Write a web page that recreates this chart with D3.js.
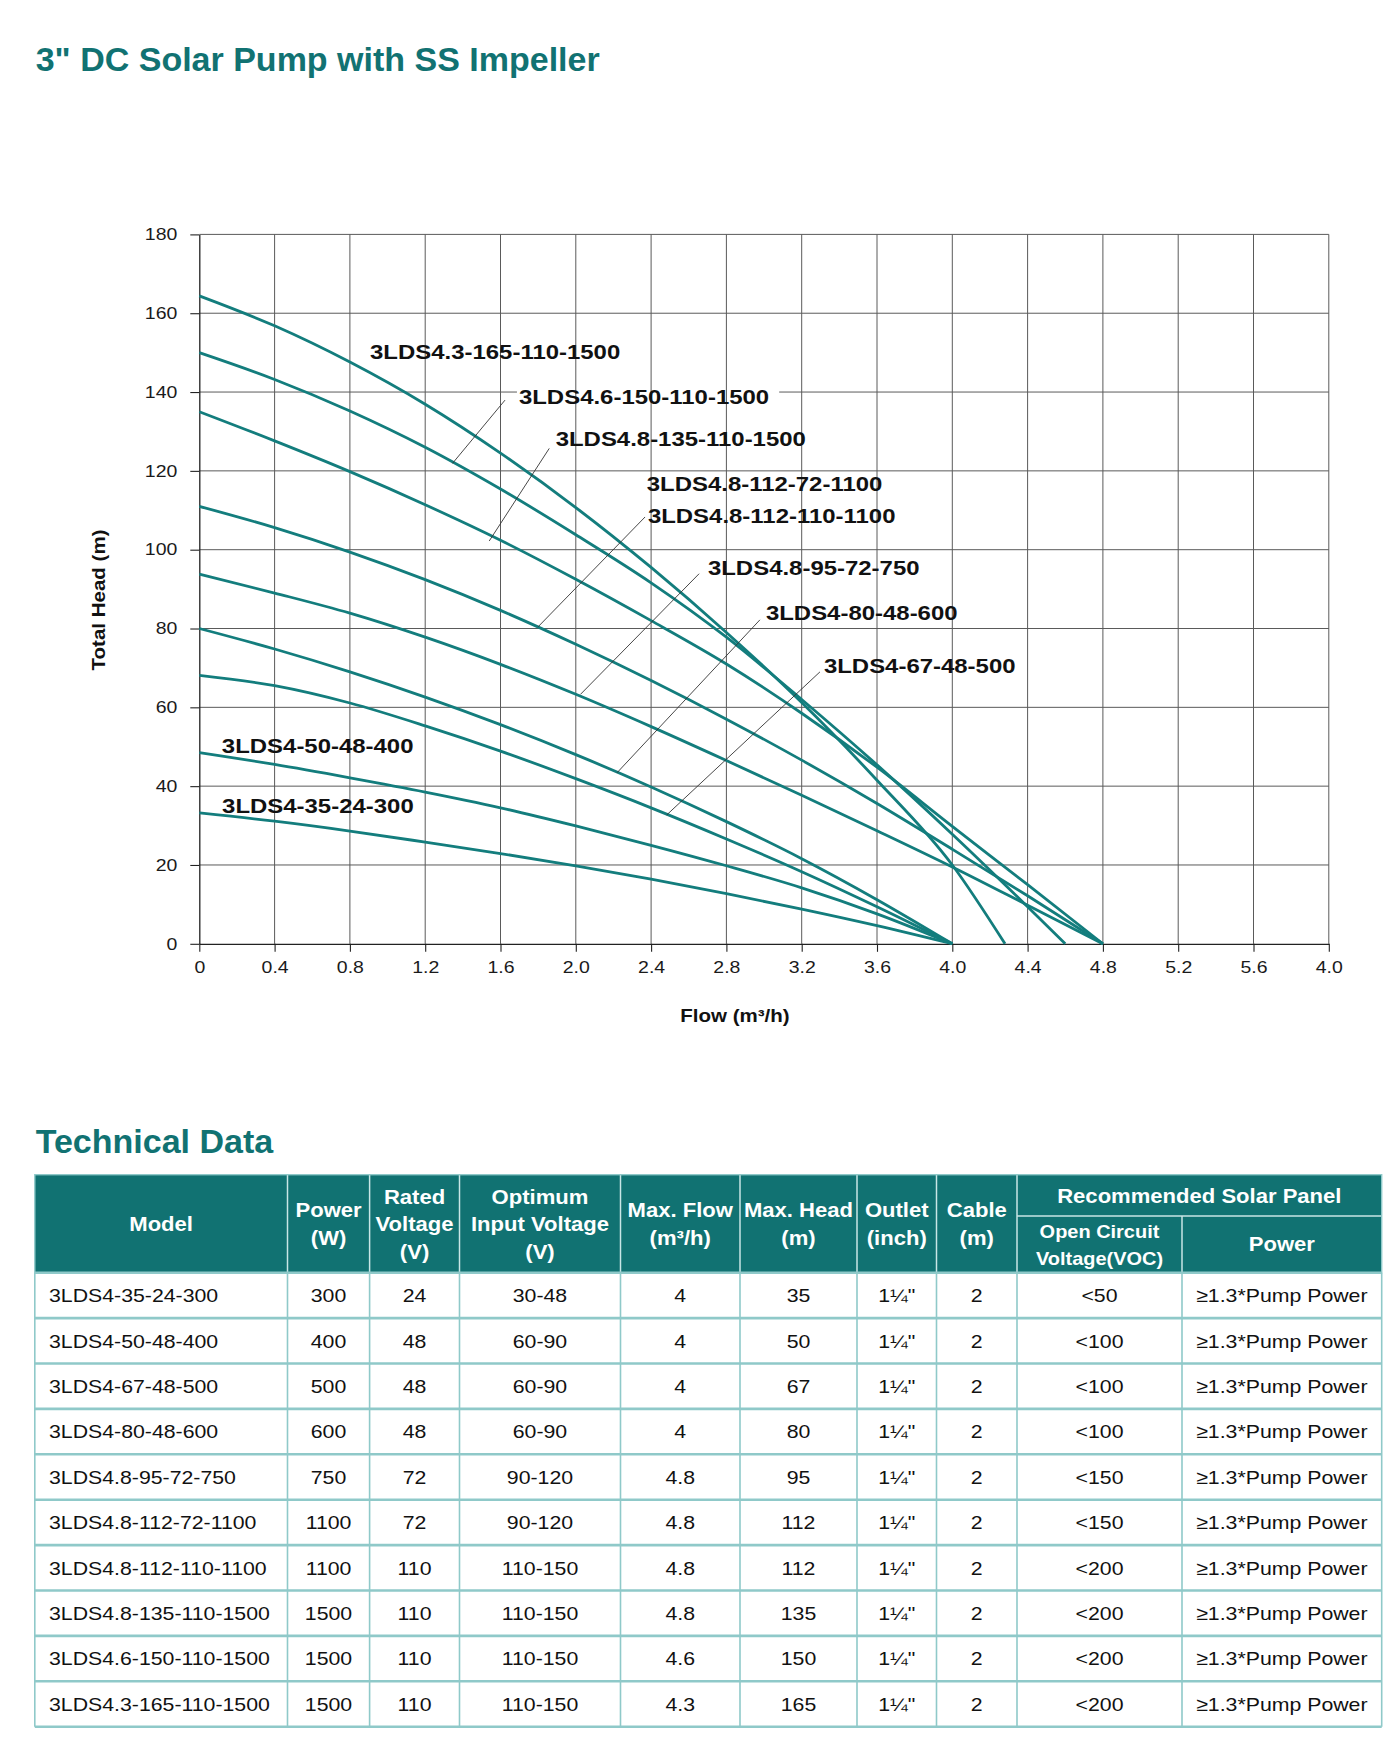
<!DOCTYPE html>
<html>
<head>
<meta charset="utf-8">
<script src="https://cdn.jsdelivr.net/npm/d3@7"></script>
<style>
  html, body { margin: 0; padding: 0; background: #fff; }
  svg { display: block; font-family: "Liberation Sans", Arial, Helvetica, sans-serif; }
</style>
</head>
<body>
<script>
// ---------------- DATA ----------------
const chartTitle = '3" DC Solar Pump with SS Impeller';
const tableTitle = "Technical Data";
const xTickValues = [0, 0.4, 0.8, 1.2, 1.6, 2.0, 2.4, 2.8, 3.2, 3.6, 4.0, 4.4, 4.8, 5.2, 5.6, 6.0];
const xTickLabels = ["0", "0.4", "0.8", "1.2", "1.6", "2.0", "2.4", "2.8", "3.2", "3.6", "4.0", "4.4", "4.8", "5.2", "5.6", "4.0"];
const yTickValues = [0, 20, 40, 60, 80, 100, 120, 140, 160, 180];
const xAxisTitle = "Flow (m\u00B3/h)";
const yAxisTitle = "Total Head (m)";

// Pump curves: [flow m3/h, head m]
const curve165 = [[0,164.4],[0.4,156.8],[0.8,147.6],[1.2,136.9],[1.6,124.5],[2.0,110.7],[2.4,95.5],[2.8,79],[3.2,61.2],[3.6,41.5],[4.0,20],[4.28,0]];
const curve150 = [[0,150],[0.4,143.2],[0.8,135.2],[1.2,126],[1.6,115.4],[2.0,103.8],[2.4,91.6],[2.8,77.8],[3.2,62],[3.6,45.4],[4.0,27.8],[4.4,9.4],[4.6,0]];
const curve135 = [[0,135],[0.4,127.6],[0.8,119.8],[1.2,111.4],[1.6,102.4],[2.0,92.5],[2.4,82],[2.8,71],[3.2,58.5],[3.6,44.8],[4.0,29.8],[4.4,15],[4.8,0]];
const curve112 = [[0,111],[0.4,105.6],[0.8,99.4],[1.2,92.4],[1.6,84.6],[2.0,76],[2.4,66.8],[2.8,57],[3.2,46.6],[3.6,35.6],[4.0,24],[4.4,12.2],[4.8,0]];
const curve95  = [[0,93.8],[0.4,89],[0.8,83.9],[1.2,77.8],[1.6,70.9],[2.0,63.3],[2.4,55.1],[2.8,46.5],[3.2,37.7],[3.6,28.7],[4.0,19.5],[4.4,9.8],[4.8,0]];
const curve80  = [[0,80],[0.4,74.8],[0.8,69],[1.2,62.6],[1.6,55.6],[2.0,48],[2.4,39.8],[2.8,31],[3.2,21.6],[3.6,11.2],[4.0,0]];
const curve67  = [[0,68.1],[0.4,65.5],[0.8,61.1],[1.2,55.3],[1.6,48.9],[2.0,41.9],[2.4,34.5],[2.8,26.6],[3.2,18.3],[3.6,9.4],[4.0,0]];
const curve50  = [[0,48.5],[0.4,45.5],[0.8,42.1],[1.2,38.5],[1.6,34.5],[2.0,29.9],[2.4,25],[2.8,19.8],[3.2,14.2],[3.6,7.6],[4.0,0]];
const curve35  = [[0,33.2],[0.4,31.1],[0.8,28.6],[1.2,25.8],[1.6,22.9],[2.0,19.8],[2.4,16.4],[2.8,12.7],[3.2,8.8],[3.6,4.6],[4.0,0]];
const curves = [curve165, curve150, curve135, curve112, curve95, curve80, curve67, curve50, curve35];

// Curve labels and their anchor (in data units: flow, head)
const curveLabels = ["3LDS4.3-165-110-1500","3LDS4.6-150-110-1500","3LDS4.8-135-110-1500","3LDS4.8-112-72-1100","3LDS4.8-112-110-1100","3LDS4.8-95-72-750","3LDS4-80-48-600","3LDS4-67-48-500","3LDS4-50-48-400","3LDS4-35-24-300"];
const labelAnchors = [[0.907,148.5],[1.698,136.9],[1.893,126.3],[2.377,114.9],[2.383,106.7],[2.702,93.6],[3.010,82.1],[3.318,68.8],[0.120,48.4],[0.121,33.2]];
// Leader lines: [from flow, from head, to flow, to head]
const leaders = [[1.624,137.95,1.345,121.9],[1.859,125.7,1.540,102.2],[2.368,108.3,1.799,80.4],[2.655,93.9,2.025,63.3],[2.978,82.2,2.219,43.4],[3.297,69.0,2.483,32.7]];

// Table data
const models = ["3LDS4-35-24-300","3LDS4-50-48-400","3LDS4-67-48-500","3LDS4-80-48-600","3LDS4.8-95-72-750","3LDS4.8-112-72-1100","3LDS4.8-112-110-1100","3LDS4.8-135-110-1500","3LDS4.6-150-110-1500","3LDS4.3-165-110-1500"];
const powerW = ["300","400","500","600","750","1100","1100","1500","1500","1500"];
const ratedV = ["24","48","48","48","72","72","110","110","110","110"];
const optimumV = ["30-48","60-90","60-90","60-90","90-120","90-120","110-150","110-150","110-150","110-150"];
const maxFlow = ["4","4","4","4","4.8","4.8","4.8","4.8","4.6","4.3"];
const maxHead = ["35","50","67","80","95","112","112","135","150","165"];
const outlet = ["1\u00BC\"","1\u00BC\"","1\u00BC\"","1\u00BC\"","1\u00BC\"","1\u00BC\"","1\u00BC\"","1\u00BC\"","1\u00BC\"","1\u00BC\""];
const cable = ["2","2","2","2","2","2","2","2","2","2"];
const vocLimit = ["<50","<100","<100","<100","<150","<150","<200","<200","<200","<200"];
const panelPower = ["\u22651.3*Pump Power","\u22651.3*Pump Power","\u22651.3*Pump Power","\u22651.3*Pump Power","\u22651.3*Pump Power","\u22651.3*Pump Power","\u22651.3*Pump Power","\u22651.3*Pump Power","\u22651.3*Pump Power","\u22651.3*Pump Power"];
const headerLabels = [["Model"],["Power","(W)"],["Rated","Voltage","(V)"],["Optimum","Input Voltage","(V)"],["Max. Flow","(m\u00B3/h)"],["Max. Head","(m)"],["Outlet","(inch)"],["Cable","(m)"]];
const panelHeader = "Recommended Solar Panel";
const panelSubHeaders = [["Open Circuit","Voltage(VOC)"],["Power"]];

// ---------------- DRAW ----------------
const W = 1400, H = 1759;
const TEAL = "#117272";
const CURVE = "#137d7d";
const svg = d3.select("body").append("svg").attr("width", W).attr("height", H);

function stretch(sel, f) {
  sel.each(function () {
    const L = this.getComputedTextLength();
    if (L > 0) {
      this.setAttribute("textLength", (L * f).toFixed(2));
      this.setAttribute("lengthAdjust", "spacingAndGlyphs");
    }
  });
}

// Titles
svg.append("text").attr("x", 35.7).attr("y", 70.7)
  .attr("font-size", 34).attr("font-weight", "bold").attr("fill", TEAL).text(chartTitle);
svg.append("text").attr("x", 35.7).attr("y", 1153.3)
  .attr("font-size", 34).attr("font-weight", "bold").attr("fill", TEAL).text(tableTitle);

// Scales
const x = d3.scaleLinear().domain([0, 6]).range([199.3, 1328.8]);
const y = d3.scaleLinear().domain([0, 180]).range([943.8, 234.4]);

const chart = svg.append("g");

// Horizontal gridlines
chart.append("g").selectAll("line").data(yTickValues.filter(d => d > 0)).join("line")
  .attr("x1", x(0)).attr("x2", x(6))
  .attr("y1", d => y(d)).attr("y2", d => y(d))
  .attr("stroke", "#5a5a5a").attr("stroke-width", 1);

// Label backgrounds (hide horizontal gridlines behind labels)
const labelFont = 21, labelStretch = 1.14;
const bgLayer = chart.append("g");

// Vertical gridlines
chart.append("g").selectAll("line").data(xTickValues.filter(d => d > 0)).join("line")
  .attr("x1", d => x(d)).attr("x2", d => x(d))
  .attr("y1", y(0)).attr("y2", y(180))
  .attr("stroke", "#5a5a5a").attr("stroke-width", 1);

// Axes
const yAxis = chart.append("g").attr("transform", `translate(${x(0)},0)`)
  .call(d3.axisLeft(y).tickValues(yTickValues).tickSize(9).tickSizeOuter(0).tickPadding(13));
const xAxis = chart.append("g").attr("transform", `translate(0,${y(0)})`)
  .call(d3.axisBottom(x).tickValues(xTickValues).tickSize(8).tickSizeOuter(0).tickPadding(9)
    .tickFormat((d, i) => xTickLabels[i]));
[yAxis, xAxis].forEach(a => {
  a.selectAll("path").attr("stroke", "#222").attr("stroke-width", 1.3);
  a.selectAll("line").attr("stroke", "#222").attr("stroke-width", 1.1);
  a.selectAll("text").attr("font-size", 16.5).attr("fill", "#1a1a1a")
    .attr("font-family", '"Liberation Sans", Arial, sans-serif');
});
stretch(yAxis.selectAll("text"), 1.18);
stretch(xAxis.selectAll("text"), 1.18);

// Axis titles
const yt = chart.append("text").attr("transform", "translate(105,600) rotate(-90)")
  .attr("text-anchor", "middle").attr("font-size", 18).attr("font-weight", "bold").attr("fill", "#111")
  .text(yAxisTitle);
const xt = chart.append("text").attr("x", 735).attr("y", 1022)
  .attr("text-anchor", "middle").attr("font-size", 18).attr("font-weight", "bold").attr("fill", "#111")
  .text(xAxisTitle);
stretch(yt, 1.14); stretch(xt, 1.14);

// Curves
const line = d3.line().x(d => x(d[0])).y(d => y(d[1])).curve(d3.curveMonotoneX);
chart.append("g").selectAll("path").data(curves).join("path")
  .attr("d", line).attr("fill", "none").attr("stroke", CURVE).attr("stroke-width", 2.8)
  .attr("stroke-linejoin", "round");

// Leader lines
chart.append("g").selectAll("line").data(leaders).join("line")
  .attr("x1", d => x(d[0])).attr("y1", d => y(d[1]))
  .attr("x2", d => x(d[2])).attr("y2", d => y(d[3]))
  .attr("stroke", "#333").attr("stroke-width", 0.9);

// Curve labels
const labels = chart.append("g").selectAll("text").data(curveLabels).join("text")
  .attr("x", (d, i) => x(labelAnchors[i][0])).attr("y", (d, i) => y(labelAnchors[i][1]))
  .attr("font-size", labelFont).attr("font-weight", "bold").attr("fill", "#111")
  .text(d => d);
stretch(labels, labelStretch);
labels.each(function () {
  const b = this.getBBox();
  bgLayer.append("rect").attr("x", b.x - 2).attr("y", b.y + 2).attr("width", b.width + 12).attr("height", b.height - 4)
    .attr("fill", "#fff");
});

// ---------------- TABLE ----------------
const colEdges = [34.8, 287.5, 369.6, 459.5, 620.5, 740, 857, 936.5, 1017, 1182, 1381.7];
const tTop = 1174.7, tSplit = 1216, tHeadBottom = 1272.7, rowH = 45.4;
const table = svg.append("g");
const colCenter = i => (colEdges[i] + colEdges[i + 1]) / 2;

// header background
table.append("rect").attr("x", colEdges[0]).attr("y", tTop)
  .attr("width", colEdges[10] - colEdges[0]).attr("height", tHeadBottom - tTop).attr("fill", TEAL);
// header dividers
const hdrLine = "#c9e6e6";
table.append("g").selectAll("line").data(d3.range(1, 10)).join("line")
  .attr("x1", i => colEdges[i]).attr("x2", i => colEdges[i])
  .attr("y1", i => i === 9 ? tSplit : tTop).attr("y2", tHeadBottom)
  .attr("stroke", hdrLine).attr("stroke-width", 1.5);
table.append("line").attr("x1", colEdges[8]).attr("x2", colEdges[10]).attr("y1", tSplit).attr("y2", tSplit)
  .attr("stroke", hdrLine).attr("stroke-width", 1.5);

// header text
const hdrCenter = (tTop + tHeadBottom) / 2, hdrLH = 27.5, hdrFont = 21;
const hdrTexts = [];
headerLabels.forEach((lines, c) => {
  lines.forEach((t, k) => {
    const cy = hdrCenter + (k - (lines.length - 1) / 2) * hdrLH;
    hdrTexts.push({ t, x: colCenter(c), y: cy + 0.355 * hdrFont, fs: hdrFont });
  });
});
hdrTexts.push({ t: panelHeader, x: (colEdges[8] + colEdges[10]) / 2, y: (tTop + tSplit) / 2 + 0.355 * hdrFont, fs: hdrFont });
panelSubHeaders.forEach((lines, c) => {
  const cc = (tSplit + tHeadBottom) / 2;
  lines.forEach((t, k) => {
    const cy = cc + (k - (lines.length - 1) / 2) * 26.7;
    hdrTexts.push({ t, x: colCenter(8 + c), y: cy + 0.355 * 19.5, fs: c === 0 ? 19 : 21 });
  });
});
const ht = table.append("g").selectAll("text").data(hdrTexts).join("text")
  .attr("x", d => d.x).attr("y", d => d.y).attr("text-anchor", "middle")
  .attr("font-size", d => d.fs).attr("font-weight", "bold").attr("fill", "#fff").text(d => d.t);
stretch(ht, 1.05);

// body
const columns = [models, powerW, ratedV, optimumV, maxFlow, maxHead, outlet, cable, vocLimit, panelPower];
const bodyBorder = "#8fc9c9";
table.append("g").selectAll("line").data(d3.range(0, 11)).join("line")
  .attr("x1", i => colEdges[i]).attr("x2", i => colEdges[i])
  .attr("y1", tHeadBottom).attr("y2", tHeadBottom + rowH * models.length)
  .attr("stroke", bodyBorder).attr("stroke-width", 1.6);
table.append("rect").attr("x", colEdges[0]).attr("y", tTop)
  .attr("width", colEdges[10] - colEdges[0]).attr("height", tHeadBottom - tTop)
  .attr("fill", "none").attr("stroke", bodyBorder).attr("stroke-width", 1.4);
table.append("g").selectAll("line").data(d3.range(0, models.length + 1)).join("line")
  .attr("x1", colEdges[0]).attr("x2", colEdges[10])
  .attr("y1", r => tHeadBottom + r * rowH).attr("y2", r => tHeadBottom + r * rowH)
  .attr("stroke", bodyBorder).attr("stroke-width", 2.6);

const bodyFont = 19;
const cells = [];
models.forEach((m, r) => {
  columns.forEach((col, c) => {
    cells.push({ t: col[r], c, y: tHeadBottom + (r + 0.5) * rowH + 0.355 * bodyFont });
  });
});
const bt = table.append("g").selectAll("text").data(cells).join("text")
  .attr("x", d => d.c === 0 ? 49 : colCenter(d.c))
  .attr("y", d => d.y)
  .attr("text-anchor", d => d.c === 0 ? "start" : "middle")
  .attr("font-size", bodyFont).attr("fill", "#111").text(d => d.t);
stretch(bt, 1.12);
</script>
</body>
</html>
